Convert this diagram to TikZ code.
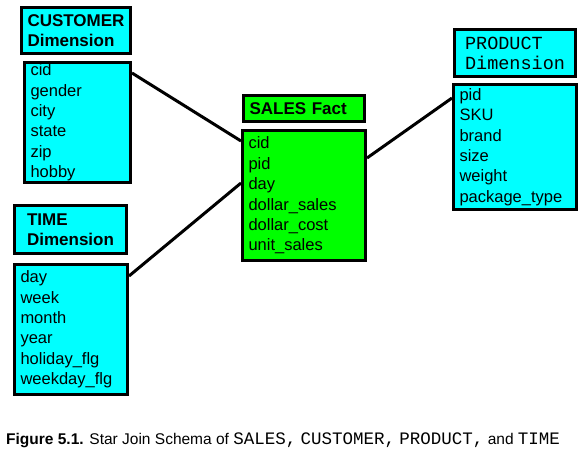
\documentclass[tikz,border=0pt]{standalone}
\usepackage{fontspec}
\setmainfont{Liberation Sans}
\setmonofont{Liberation Mono}
\usepackage{tikz}
\usetikzlibrary{positioning}
\definecolor{dimcyan}{HTML}{00FFFF}
\definecolor{factgreen}{HTML}{00FF00}

\begin{document}
\begin{tikzpicture}[
    x=1pt,y=-1pt,
    tbl/.style={draw=black,line width=3pt,anchor=north west,inner xsep=0pt,inner ysep=0pt},
    dimhead/.style={tbl,fill=dimcyan,align=left,font=\bfseries\fontsize{17}{20}\selectfont},
    facthead/.style={tbl,fill=factgreen,align=left,font=\bfseries\fontsize{17}{20}\selectfont},
    rows/.style={tbl,align=left,inner xsep=6pt,font=\fontsize{16.5}{20.4}\selectfont},
    keyline/.style={line width=3pt}
]
\useasboundingbox (0,0) rectangle (585,451);

% customer dimension
\node[dimhead,minimum width=109pt,minimum height=46pt] (custhead) at (20,6) {CUSTOMER\\Dimension};
\node[rows,fill=dimcyan,text width=94pt,minimum height=120pt,below=6pt of custhead.south west,anchor=north west,xshift=3pt] (custbody)
    {cid\\gender\\city\\state\\zip\\hobby};

% time dimension
\node[dimhead,minimum width=112pt,minimum height=48pt] (timehead) at (13,204) {TIME\\Dimension};
\node[rows,fill=dimcyan,text width=101pt,minimum height=130pt,below=8pt of timehead.south west,anchor=north west] (timebody)
    {day\\week\\month\\year\\holiday\_flg\\weekday\_flg};

% sales fact
\node[facthead,minimum width=121pt,minimum height=26pt,inner xsep=6pt,text width=109pt] (salehead) at (242,94) {SALES Fact};
\node[rows,fill=factgreen,text width=111pt,minimum height=130pt,below=6pt of salehead.south west,anchor=north west,xshift=-1pt] (salebody)
    {cid\\pid\\day\\dollar\_sales\\dollar\_cost\\unit\_sales};

% product dimension
\node[dimhead,minimum width=121pt,minimum height=47pt,font=\ttfamily\fontsize{18.5}{20}\selectfont] (prodhead) at (453,28) {PRODUCT\\Dimension};
\node[rows,fill=dimcyan,text width=111pt,minimum height=125pt,below=5pt of prodhead.south west,anchor=north west,xshift=-1pt] (prodbody)
    {pid\\SKU\\brand\\size\\weight\\package\_type};

% joins
\draw[keyline] ([yshift=-12pt]custbody.north east) -- ([yshift=-12pt]salebody.north west);
\draw[keyline] ([yshift=-13pt]timebody.north east) -- ([yshift=-54pt]salebody.north west);
\draw[keyline] ([yshift=-29pt]salebody.north east) -- ([yshift=-15pt]prodbody.north west);

% caption
\node[anchor=base west,inner sep=0pt,font=\fontsize{15.5}{17}\selectfont] (caption) at (6,444)
    {\textbf{Figure 5.1.} Star Join Schema of {\ttfamily\fontsize{17.5}{17}\selectfont SALES,} {\ttfamily\fontsize{17.5}{17}\selectfont CUSTOMER,} {\ttfamily\fontsize{17.5}{17}\selectfont PRODUCT,} and {\ttfamily\fontsize{17.5}{17}\selectfont TIME}};
\end{tikzpicture}
\end{document}
